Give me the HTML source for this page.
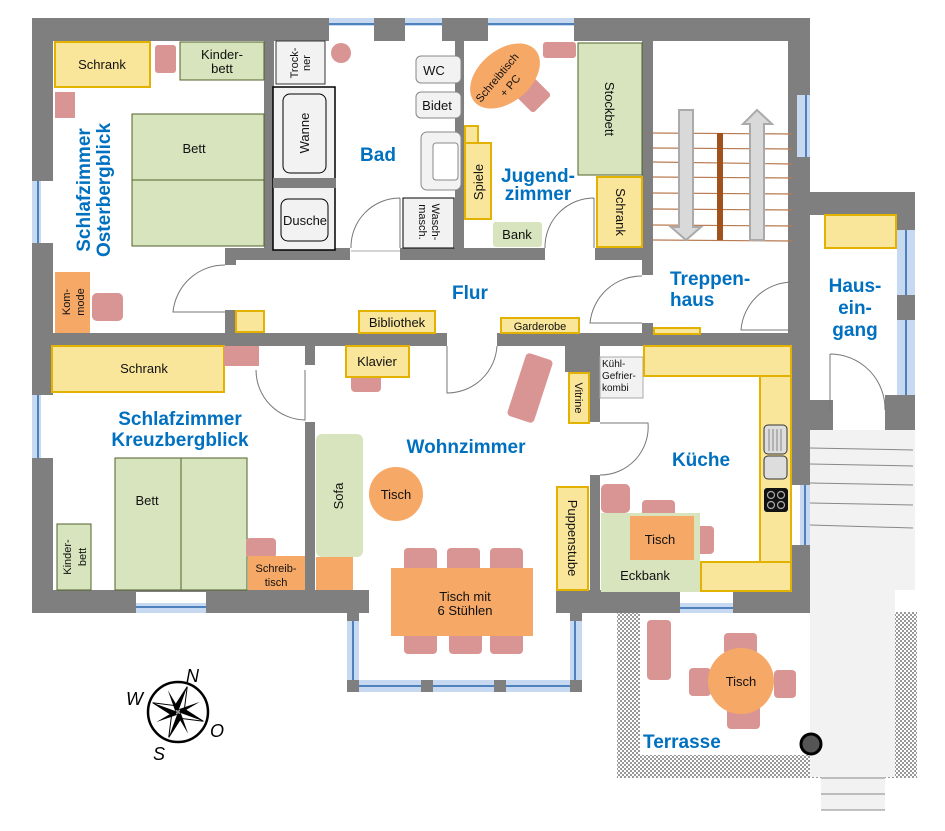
<!DOCTYPE html>
<html><head><meta charset="utf-8"><style>
html,body{margin:0;padding:0;background:#fff;}
svg{display:block;}
text{font-family:"Liberation Sans",sans-serif;}
.t{font-size:13px;fill:#111;}
.s{font-size:11px;fill:#111;}
.h{font-size:19px;font-weight:bold;fill:#0070c0;}
.w{fill:#7f7f7f;}
.y{fill:#f9e69a;stroke:#e3b200;stroke-width:2;}
.g{fill:#d7e4bd;stroke:#4f6228;stroke-width:1;}
.gn{fill:#d7e4bd;}
.p{fill:#d99594;}
.o{fill:#f6a866;}
.gr{fill:#f2f2f2;stroke:#333;stroke-width:1;}
.win{fill:#c6d9f1;}
.wl{stroke:#4f81bd;stroke-width:2;}
.arc{fill:none;stroke:#777;stroke-width:1;}
.st{stroke:#b87a50;stroke-width:1.2;}
</style></head><body>
<svg width="945" height="831" viewBox="0 0 945 831" xmlns="http://www.w3.org/2000/svg">
<defs>
<pattern id="dots" width="4" height="4" patternUnits="userSpaceOnUse">
<rect width="4" height="4" fill="#fff"/><rect width="2" height="2" fill="#999"/><rect x="2" y="2" width="2" height="2" fill="#999"/>
</pattern>
</defs>

<!-- Terrace & outside stairs -->
<rect x="617" y="612" width="300" height="166" fill="url(#dots)"/>
<rect x="640" y="612" width="245" height="143" fill="#fff"/>
<rect x="810" y="430" width="85" height="347" fill="#f2f2f2"/>
<rect x="810" y="430" width="105" height="160" fill="#f2f2f2"/>
<rect x="821" y="777" width="64" height="33" fill="#f2f2f2"/>
<g stroke="#888" stroke-width="1">
<line x1="810" y1="448" x2="913" y2="450"/>
<line x1="810" y1="464" x2="913" y2="466"/>
<line x1="810" y1="483" x2="913" y2="485"/>
<line x1="810" y1="503" x2="913" y2="505"/>
<line x1="810" y1="525" x2="913" y2="528"/>
<line x1="821" y1="778" x2="885" y2="778"/>
<line x1="821" y1="794" x2="885" y2="794"/>
<line x1="821" y1="810" x2="885" y2="810"/>
</g>
<circle cx="811" cy="744" r="10" fill="#555" stroke="#000" stroke-width="3"/>

<!-- Walls outer -->
<rect class="w" x="32" y="18" width="778" height="23"/>
<rect class="w" x="32" y="18" width="21" height="594"/>
<rect class="w" x="788" y="18" width="22" height="332"/>
<rect class="w" x="810" y="192" width="105" height="23"/>
<rect class="w" x="897" y="192" width="18" height="218"/>
<rect class="w" x="790" y="345" width="20" height="140"/>
<rect class="w" x="808" y="400" width="25" height="30"/>
<rect class="w" x="885" y="395" width="30" height="35"/>
<rect class="w" x="790" y="545" width="20" height="67"/>
<rect class="w" x="32" y="590" width="337" height="23"/>
<rect class="w" x="556" y="590" width="254" height="23"/>
<!-- windows top -->
<rect class="win" x="329" y="18" width="45" height="22"/><line class="wl" x1="329" y1="24" x2="374" y2="24"/>
<rect class="win" x="405" y="18" width="37" height="22"/><line class="wl" x1="405" y1="24" x2="442" y2="24"/>
<rect class="win" x="488" y="18" width="86" height="22"/><line class="wl" x1="488" y1="24" x2="574" y2="24"/>
<rect fill="#fff" x="329" y="26" width="45" height="15"/><rect fill="#fff" x="405" y="26" width="37" height="15"/><rect fill="#fff" x="488" y="26" width="86" height="15"/>
<rect class="win" x="797" y="95" width="13" height="62"/><line class="wl" x1="806" y1="95" x2="806" y2="157"/>
<rect class="win" x="897" y="230" width="18" height="65"/><line class="wl" x1="906" y1="230" x2="906" y2="295"/>
<rect class="win" x="897" y="320" width="18" height="75"/><line class="wl" x1="906" y1="320" x2="906" y2="395"/>
<rect class="win" x="32" y="181" width="21" height="62"/><line class="wl" x1="38" y1="181" x2="38" y2="243"/><rect fill="#fff" x="41" y="181" width="12" height="62"/>
<rect class="win" x="32" y="395" width="21" height="63"/><line class="wl" x1="38" y1="395" x2="38" y2="458"/><rect fill="#fff" x="41" y="395" width="12" height="63"/>
<rect class="win" x="136" y="592" width="70" height="21"/><line class="wl" x1="136" y1="607" x2="206" y2="607"/><rect fill="#fff" x="136" y="592" width="70" height="11"/>
<rect class="win" x="680" y="592" width="53" height="21"/><line class="wl" x1="680" y1="608" x2="733" y2="608"/><rect fill="#fff" x="680" y="592" width="53" height="11"/>
<rect class="win" x="792" y="485" width="18" height="60"/><line class="wl" x1="805" y1="485" x2="805" y2="545"/><rect fill="#fff" x="790" y="485" width="10" height="60"/>
<!-- bay -->
<rect class="win" x="347" y="613" width="12" height="78"/><line class="wl" x1="353" y1="613" x2="353" y2="688"/>
<rect class="win" x="570" y="613" width="12" height="78"/><line class="wl" x1="575" y1="613" x2="575" y2="688"/>
<rect class="win" x="347" y="680" width="235" height="12"/><line class="wl" x1="350" y1="686" x2="580" y2="686"/>
<rect class="w" x="347" y="613" width="12" height="8"/><rect class="w" x="570" y="613" width="12" height="8"/>
<rect class="w" x="347" y="680" width="12" height="12"/><rect class="w" x="421" y="680" width="12" height="12"/><rect class="w" x="494" y="680" width="12" height="12"/><rect class="w" x="570" y="680" width="12" height="12"/>

<!-- interior walls -->
<rect class="w" x="264" y="40" width="10" height="210"/>
<rect class="w" x="455" y="40" width="9" height="210"/>
<rect class="w" x="642" y="40" width="11" height="235"/>
<rect class="w" x="642" y="323" width="11" height="12"/>
<rect class="w" x="225" y="248" width="125" height="12"/>
<rect class="w" x="400" y="248" width="145" height="12"/>
<rect class="w" x="595" y="248" width="58" height="12"/>
<rect class="w" x="225" y="248" width="11" height="17"/>
<rect class="w" x="225" y="310" width="11" height="25"/>
<rect class="w" x="32" y="333" width="415" height="13"/>
<rect class="w" x="497" y="333" width="293" height="13"/>
<rect class="w" x="565" y="345" width="35" height="27"/>
<rect class="w" x="590" y="372" width="10" height="50"/>
<rect class="w" x="590" y="475" width="10" height="137"/>
<rect class="w" x="305" y="345" width="10" height="20"/>
<rect class="w" x="305" y="422" width="10" height="168"/>
<rect class="w" x="788" y="215" width="22" height="125"/>

<!-- Schlafzimmer Osterbergblick -->
<rect class="y" x="55" y="42" width="95" height="45"/><text class="t" x="102" y="69" text-anchor="middle">Schrank</text>
<rect class="p" x="155" y="45" width="21" height="28" rx="3"/>
<rect class="g" x="180" y="42" width="84" height="38"/><text class="t" x="222" y="59" text-anchor="middle">Kinder-</text><text class="t" x="222" y="73" text-anchor="middle">bett</text>
<rect class="p" x="55" y="92" width="20" height="26"/>
<rect class="g" x="132" y="114" width="132" height="132"/><line x1="132" y1="180" x2="264" y2="180" stroke="#4f6228"/>
<text class="h" transform="translate(90,190) rotate(-90)" text-anchor="middle">Schlafzimmer</text>
<text class="h" transform="translate(110,190) rotate(-90)" text-anchor="middle">Osterbergblick</text>
<text class="t" x="194" y="153" text-anchor="middle">Bett</text>
<rect class="o" x="55" y="272" width="35" height="61"/>
<text class="s" transform="translate(70,302) rotate(-90)" text-anchor="middle" font-size="12">Kom-</text>
<text class="s" transform="translate(84,302) rotate(-90)" text-anchor="middle" font-size="12">mode</text>
<rect class="p" x="92" y="293" width="31" height="28" rx="5"/>
<path class="arc" d="M225,265 A52,52 0 0 0 173,312 L225,312"/>
<rect class="y" x="236" y="311" width="28" height="21"/>

<!-- Bad -->
<rect class="gr" x="276" y="41" width="49" height="43"/>
<text class="s" transform="translate(298,63) rotate(-90)" text-anchor="middle">Trock-</text>
<text class="s" transform="translate(310,63) rotate(-90)" text-anchor="middle">ner</text>
<circle class="p" cx="341" cy="53" r="10"/>
<rect x="273" y="87" width="62" height="163" fill="#f2f2f2" stroke="#000" stroke-width="1.5"/>
<rect class="w" x="273" y="178" width="63" height="10"/>
<rect x="283" y="94" width="43" height="79" rx="7" fill="#f2f2f2" stroke="#000"/>
<text class="t" transform="translate(309,133) rotate(-90)" text-anchor="middle">Wanne</text>
<rect x="281" y="199" width="47" height="42" rx="7" fill="#f2f2f2" stroke="#000"/>
<text class="t" x="305" y="225" text-anchor="middle">Dusche</text>
<text class="h" x="378" y="161" text-anchor="middle">Bad</text>
<rect x="416" y="56" width="45" height="27" rx="5" fill="#f2f2f2" stroke="#888"/><text class="t" x="434" y="75" text-anchor="middle">WC</text>
<rect x="416" y="92" width="45" height="26" rx="5" fill="#f2f2f2" stroke="#888"/><text class="t" x="437" y="110" text-anchor="middle">Bidet</text>
<rect x="421" y="132" width="40" height="58" rx="6" fill="#f2f2f2" stroke="#888"/>
<rect x="433" y="143" width="25" height="37" rx="3" fill="#fff" stroke="#888"/>
<rect x="403" y="198" width="51" height="50" fill="#f2f2f2" stroke="#000"/>
<text class="s" transform="translate(432,222) rotate(90)" text-anchor="middle">Wasch-</text>
<text class="s" transform="translate(419,222) rotate(90)" text-anchor="middle">masch.</text>
<path class="arc" d="M400,198 A49,49 0 0 0 351,248 M400,198 L400,248"/>
<rect fill="#fff" x="351" y="248" width="49" height="12"/><line x1="351" y1="251" x2="400" y2="251" stroke="#aaa"/>

<!-- Jugendzimmer -->
<rect class="p" x="543" y="42" width="33" height="16" rx="3"/>
<rect class="p" x="520" y="82" width="26" height="26" rx="3" transform="rotate(45 533 95)"/>
<ellipse class="o" cx="505" cy="76" rx="40" ry="26" transform="rotate(-40 505 76)"/>
<text class="s" transform="translate(500,80) rotate(-50)" text-anchor="middle" font-size="12">Schreibtisch</text>
<text class="s" transform="translate(513,88) rotate(-50)" text-anchor="middle" font-size="12">+ PC</text>
<rect class="g" x="578" y="43" width="64" height="132"/>
<text class="t" transform="translate(605,109) rotate(90)" text-anchor="middle">Stockbett</text>
<rect class="y" x="465" y="126" width="13" height="17"/>
<rect class="y" x="465" y="143" width="26" height="76"/>
<text class="t" transform="translate(483,182) rotate(-90)" text-anchor="middle">Spiele</text>
<text class="h" x="538" y="182" text-anchor="middle">Jugend-</text>
<text class="h" x="538" y="200" text-anchor="middle">zimmer</text>
<rect class="gn" x="493" y="222" width="49" height="25" rx="3"/><text class="t" x="517" y="239" text-anchor="middle">Bank</text>
<path class="arc" d="M594,198 A49,49 0 0 0 545,248 M594,198 L594,248"/>
<rect fill="#fff" x="545" y="248" width="50" height="12"/>
<rect class="y" x="597" y="177" width="45" height="70"/>
<text class="t" transform="translate(616,212) rotate(90)" text-anchor="middle">Schrank</text>

<!-- Treppenhaus -->
<g class="st">
<line x1="653" y1="133" x2="792" y2="134"/><line x1="653" y1="148" x2="792" y2="149"/><line x1="653" y1="162" x2="792" y2="164"/>
<line x1="653" y1="177" x2="792" y2="178"/><line x1="653" y1="193" x2="792" y2="194"/><line x1="653" y1="209" x2="792" y2="210"/>
<line x1="653" y1="225" x2="792" y2="226"/><line x1="653" y1="240" x2="792" y2="241"/>
</g>
<path d="M679,110 L693,110 L693,227 L701,227 L686,240 L671,227 L679,227 Z" fill="#d9d9d9" stroke="#aaa" stroke-width="2"/>
<rect x="717" y="133" width="6" height="107" fill="#a0521c"/>
<path d="M750,240 L764,240 L764,124 L772,124 L757,110 L743,124 L750,124 Z" fill="#d9d9d9" stroke="#aaa" stroke-width="2"/>
<text class="h" x="670" y="285">Treppen-</text>
<text class="h" x="670" y="306">haus</text>
<path class="arc" d="M793,282 A52,52 0 0 0 741,330 L793,330"/>
<rect class="y" x="654" y="328" width="46" height="6"/>

<!-- Hauseingang -->
<rect class="y" x="825" y="215" width="71" height="33"/>
<text class="h" x="855" y="292" text-anchor="middle">Haus-</text>
<text class="h" x="855" y="314" text-anchor="middle">ein-</text>
<text class="h" x="855" y="336" text-anchor="middle">gang</text>
<path class="arc" d="M830,354 A55,55 0 0 1 885,410 M830,354 L830,410"/>

<!-- Flur -->
<text class="h" x="470" y="299" text-anchor="middle">Flur</text>
<rect class="y" x="359" y="311" width="76" height="22"/><text class="t" x="397" y="327" text-anchor="middle">Bibliothek</text>
<rect class="y" x="501" y="318" width="78" height="15"/><text class="s" x="540" y="330" text-anchor="middle" font-size="12">Garderobe</text>
<path class="arc" d="M642,276 A52,52 0 0 0 590,323 L642,323"/>
<rect fill="#fff" x="447" y="333" width="50" height="13"/>

<!-- Schlafzimmer Kreuzbergblick -->
<rect class="y" x="52" y="346" width="172" height="46"/><text class="t" x="144" y="373" text-anchor="middle">Schrank</text>
<rect class="p" x="224" y="346" width="35" height="20"/>
<path class="arc" d="M305,370 L305,420 A50,50 0 0 1 256,370"/>
<text class="h" x="180" y="425" text-anchor="middle">Schlafzimmer</text>
<text class="h" x="180" y="446" text-anchor="middle">Kreuzbergblick</text>
<rect class="g" x="115" y="458" width="132" height="132"/><line x1="181" y1="458" x2="181" y2="590" stroke="#4f6228"/>
<text class="t" x="147" y="505" text-anchor="middle">Bett</text>
<rect class="g" x="57" y="524" width="34" height="66"/>
<text class="s" transform="translate(71,557) rotate(-90)" text-anchor="middle">Kinder-</text>
<text class="s" transform="translate(86,557) rotate(-90)" text-anchor="middle">bett</text>
<rect class="p" x="246" y="538" width="30" height="20" rx="4"/>
<rect class="o" x="248" y="556" width="57" height="34"/>
<text class="s" x="276" y="572" text-anchor="middle" font-size="12">Schreib-</text>
<text class="s" x="276" y="586" text-anchor="middle" font-size="12">tisch</text>

<!-- Wohnzimmer -->
<rect class="p" x="351" y="370" width="30" height="22" rx="4"/>
<rect class="y" x="346" y="346" width="63" height="31"/><text class="t" x="377" y="366" text-anchor="middle">Klavier</text>
<path class="arc" d="M447,346 L447,393 A50,50 0 0 0 497,346"/>
<rect class="p" x="516" y="355" width="28" height="66" rx="4" transform="rotate(18 530 388)"/>
<text class="h" x="466" y="453" text-anchor="middle">Wohnzimmer</text>
<rect class="gn" x="316" y="434" width="47" height="123" rx="6"/>
<text class="t" transform="translate(343,496) rotate(-90)" text-anchor="middle">Sofa</text>
<rect class="o" x="316" y="557" width="37" height="33"/>
<circle class="o" cx="396" cy="494" r="27"/><text class="t" x="396" y="499" text-anchor="middle">Tisch</text>
<rect class="p" x="404" y="548" width="33" height="24" rx="4"/><rect class="p" x="447" y="548" width="33" height="24" rx="4"/><rect class="p" x="490" y="548" width="33" height="24" rx="4"/>
<rect class="p" x="404" y="630" width="33" height="24" rx="4"/><rect class="p" x="449" y="630" width="33" height="24" rx="4"/><rect class="p" x="490" y="630" width="33" height="24" rx="4"/>
<rect class="o" x="391" y="568" width="142" height="68"/>
<text class="t" x="465" y="601" text-anchor="middle">Tisch mit</text>
<text class="t" x="465" y="615" text-anchor="middle">6 Stühlen</text>
<rect class="y" x="557" y="487" width="31" height="103"/>
<text class="t" transform="translate(568,538) rotate(90)" text-anchor="middle">Puppenstube</text>
<rect class="y" x="569" y="373" width="20" height="50"/>
<text class="s" transform="translate(575,398) rotate(90)" text-anchor="middle" font-size="12">Vitrine</text>

<!-- Küche -->
<rect x="600" y="357" width="43" height="41" fill="#f2f2f2" stroke="#aaa"/>
<text x="602" y="367" font-size="10" fill="#111">Kühl-</text>
<text x="602" y="379" font-size="10" fill="#111">Gefrier-</text>
<text x="602" y="391" font-size="10" fill="#111">kombi</text>
<rect class="y" x="644" y="346" width="147" height="30"/>
<rect class="y" x="760" y="376" width="31" height="187"/>
<rect class="y" x="701" y="562" width="90" height="29"/>
<rect x="764" y="425" width="23" height="29" rx="4" fill="#ddd" stroke="#333"/>
<g stroke="#888"><line x1="769" y1="429" x2="769" y2="451"/><line x1="773" y1="429" x2="773" y2="451"/><line x1="777" y1="429" x2="777" y2="451"/><line x1="781" y1="429" x2="781" y2="451"/></g>
<rect x="764" y="456" width="23" height="23" rx="4" fill="#ddd" stroke="#333"/>
<rect x="764" y="488" width="24" height="24" rx="3" fill="#111"/>
<g fill="none" stroke="#aaa" stroke-width="1.2"><circle cx="771" cy="495" r="3.5"/><circle cx="781" cy="495" r="3.5"/><circle cx="771" cy="505" r="3.5"/><circle cx="781" cy="505" r="3.5"/></g>
<path class="arc" d="M600,423 L648,423 A48,48 0 0 1 600,475"/>
<text class="h" x="701" y="466" text-anchor="middle">Küche</text>
<rect class="p" x="601" y="484" width="29" height="29" rx="5"/>
<rect class="p" x="642" y="500" width="33" height="20" rx="4"/>
<rect class="p" x="694" y="526" width="20" height="28" rx="4"/>
<rect class="gn" x="601" y="513" width="99" height="79"/>
<rect class="o" x="630" y="516" width="64" height="44"/>
<text class="t" x="660" y="544" text-anchor="middle">Tisch</text>
<text class="t" x="645" y="580" text-anchor="middle">Eckbank</text>

<!-- Terrasse -->
<rect class="p" x="647" y="620" width="24" height="60" rx="4"/>
<rect class="p" x="724" y="633" width="33" height="22" rx="4"/>
<rect class="p" x="727" y="705" width="33" height="24" rx="4"/>
<rect class="p" x="689" y="668" width="22" height="28" rx="4"/>
<rect class="p" x="774" y="670" width="22" height="28" rx="4"/>
<circle class="o" cx="741" cy="681" r="33"/>
<text class="t" x="741" y="686" text-anchor="middle">Tisch</text>
<text class="h" x="643" y="748">Terrasse</text>

<!-- Compass -->
<g transform="translate(178,712)">
<circle r="30" fill="#fff" stroke="#000" stroke-width="2.5"/>
<g transform="rotate(20)">
<polygon points="0,-27 5,-5 27,0 5,5 0,27 -5,5 -27,0 -5,-5" fill="#fff" stroke="#000"/>
<polygon points="0,-27 0,0 -5,-5" fill="#000"/><polygon points="27,0 0,0 5,-5" fill="#000"/>
<polygon points="0,27 0,0 5,5" fill="#000"/><polygon points="-27,0 0,0 -5,5" fill="#000"/>
<polygon points="-17,-17 -3,0 0,-3" fill="#000"/><polygon points="17,-17 0,-3 3,0" fill="#000"/>
<polygon points="17,17 3,0 0,3" fill="#000"/><polygon points="-17,17 0,3 -3,0" fill="#000"/>
</g>
</g>
<text x="186" y="682" font-size="18" font-style="italic" fill="#000">N</text>
<text x="126" y="705" font-size="18" font-style="italic" fill="#000">W</text>
<text x="210" y="737" font-size="18" font-style="italic" fill="#000">O</text>
<text x="153" y="760" font-size="18" font-style="italic" fill="#000">S</text>
</svg>
</body></html>
